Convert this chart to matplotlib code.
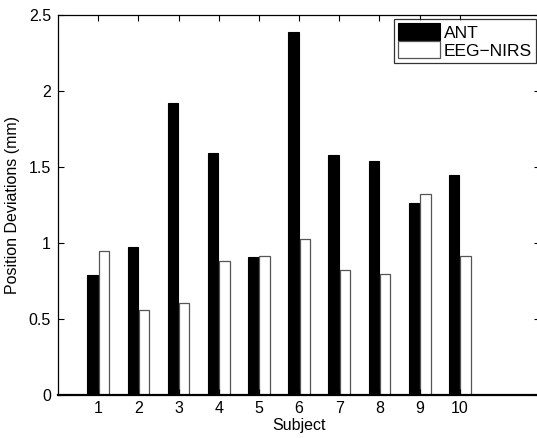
import numpy as np
import matplotlib
matplotlib.use("Agg")
import matplotlib.pyplot as plt

plt.rcParams['font.family'] = ['Liberation Sans', 'DejaVu Sans']

subjects = [1, 2, 3, 4, 5, 6, 7, 8, 9, 10]
ant = [0.79, 0.97, 1.92, 1.59, 0.905, 2.39, 1.58, 1.536, 1.262, 1.446]
eeg_nirs = [0.944, 0.556, 0.604, 0.878, 0.911, 1.027, 0.823, 0.795, 1.324, 0.913]
series_names = ['ANT', 'EEG\u2212NIRS']

fig = plt.figure(figsize=(5.37, 4.38), dpi=100)
ax = fig.add_axes([0.108, 0.0993, 0.898, 0.8665])

x = np.array(subjects)
w = 0.26
ax.bar(x - 0.14, ant, width=w, color='black', edgecolor='black', linewidth=0.8,
       label=series_names[0])
ax.bar(x + 0.14, eeg_nirs, width=w, color='white', edgecolor='#555555', linewidth=0.9,
       label=series_names[1])

ax.set_xlim(0, 12)
ax.set_ylim(0, 2.5)
ax.set_xticks(subjects)
ax.set_yticks([0, 0.5, 1, 1.5, 2, 2.5])
ax.set_yticklabels(['0', '0.5', '1', '1.5', '2', '2.5'])
ax.tick_params(direction='in', length=4, width=0.8, top=True, right=True,
               labelsize=11.5, pad=5)
for s in ax.spines.values():
    s.set_linewidth(0.9)
ax.spines['bottom'].set_linewidth(1.6)
ax.spines['bottom'].set_zorder(3)

ax.set_xlabel('Subject', fontsize=11.5, labelpad=1)
ax.set_ylabel('Position Deviations (mm)', fontsize=11.5, labelpad=6)

leg = ax.legend(loc='upper right', bbox_to_anchor=(536 / 537, 1 - 19 / 438),
                bbox_transform=fig.transFigure, fontsize=12.5, frameon=True,
                fancybox=False, borderpad=0.25, handlelength=2.4, handleheight=1.1,
                handletextpad=0.2, labelspacing=0.05, borderaxespad=0)
leg.get_frame().set_edgecolor('black')
leg.get_frame().set_linewidth(0.9)

fig.savefig('out.png', dpi=100)
